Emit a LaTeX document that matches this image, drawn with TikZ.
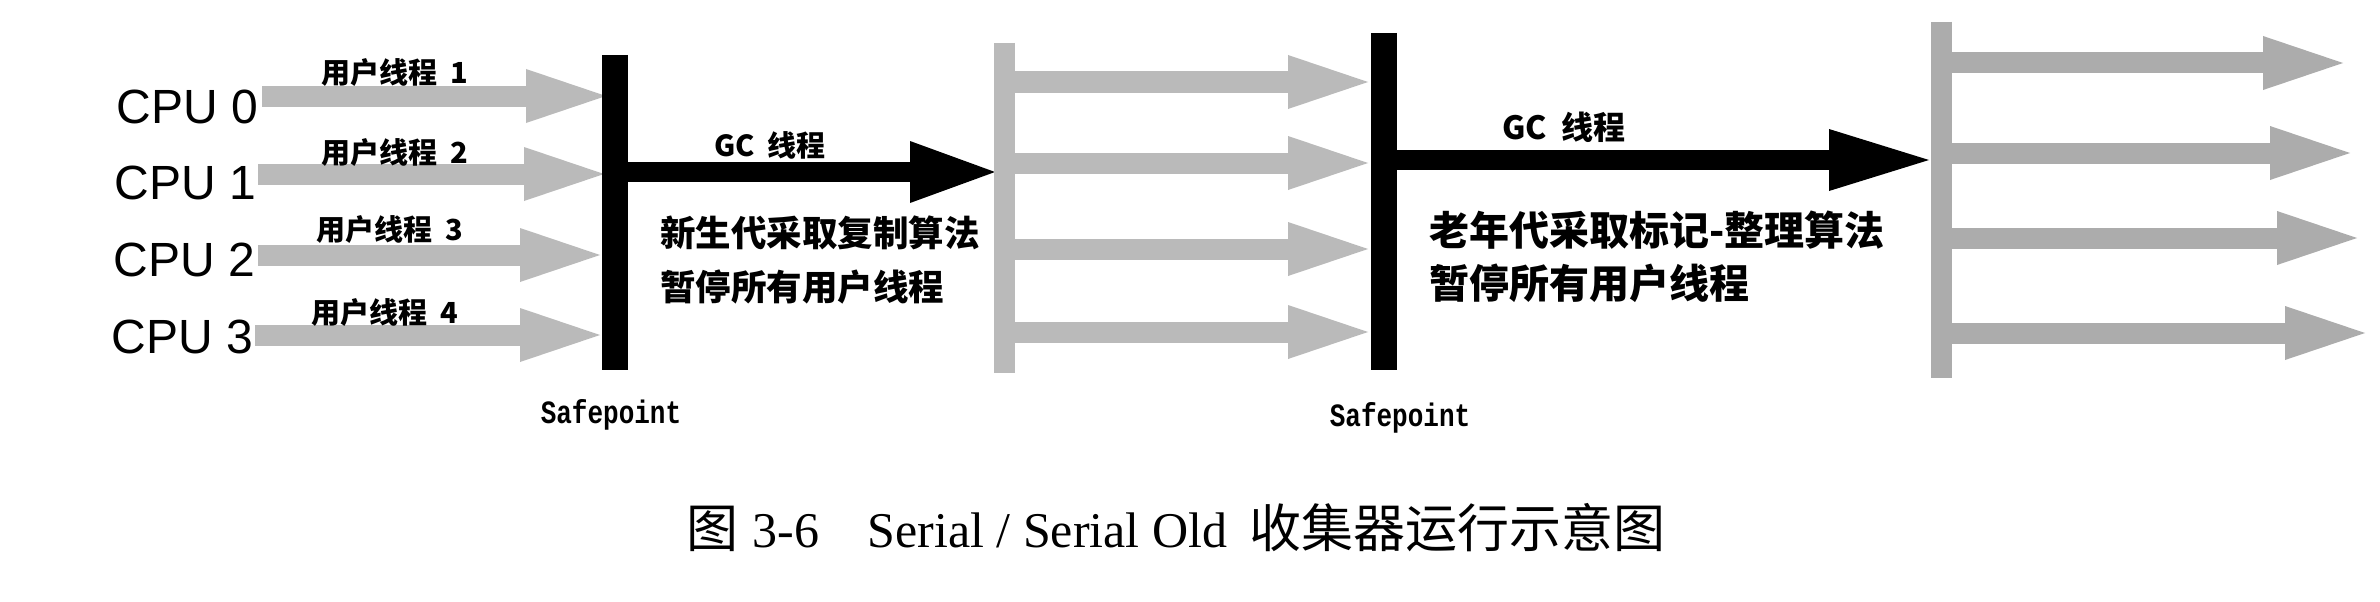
\documentclass[tikz,border=0pt]{standalone}
\usepackage{fontspec}
\setmainfont{Liberation Serif}
\newfontfamily\cjk{Noto Sans CJK SC}
\newfontfamily\arialf{Liberation Sans}
\newfontfamily\monof{Liberation Mono}
\usetikzlibrary{arrows.meta}
\definecolor{garrow}{RGB}{186,186,186}
\definecolor{garrowd}{RGB}{172,172,172}
\tikzset{
  cpulabel/.style={anchor=east,inner sep=0pt,font=\arialf\fontsize{48}{52}\selectfont},
  thlabel/.style={inner sep=0pt,font=\cjk\bfseries\fontsize{29}{32}\selectfont},
  gclabel/.style={inner sep=0pt,font=\cjk\bfseries\fontsize{#1}{#1}\selectfont},
  desc/.style={anchor=west,inner sep=0pt,font=\cjk\bfseries\fontsize{#1}{#1}\selectfont},
  sflabel/.style={inner sep=0pt,font=\monof\bfseries\fontsize{26}{28}\selectfont},
  userarrow/.style={draw=#1,line width=21pt,-{Triangle[length=80pt,width=54pt,line width=0pt]}},
  gcarrow/.style={draw=black,line width=20pt,-{Triangle[length=#1,width=62pt,line width=0pt]}},
  grayline/.style={draw=#1,line width=21pt},
  blackline/.style={draw=black,line width=26pt},
}
\begin{document}
\begin{tikzpicture}[x=1pt,y=-1pt]
\fill[white] (0,0) rectangle (2380,602);
\useasboundingbox (0,0) rectangle (2380,602);

% CPU labels
\node[cpulabel] (cpu0) at (258,107) {CPU 0};
\node[cpulabel] (cpu1) at (256,183) {CPU 1};
\node[cpulabel] (cpu2) at (255,260) {CPU 2};
\node[cpulabel] (cpu3) at (253,337) {CPU 3};

% group 1 coordinates
\coordinate (a0s) at (262,96);  \coordinate (a0e) at (606,96);
\coordinate (a1s) at (258,174); \coordinate (a1e) at (604,174);
\coordinate (a2s) at (258,255); \coordinate (a2e) at (600,255);
\coordinate (a3s) at (255,335); \coordinate (a3e) at (600,335);
\draw[userarrow=garrow] (a0s) -- (a0e);
\draw[userarrow=garrow] (a1s) -- (a1e);
\draw[userarrow=garrow] (a2s) -- (a2e);
\draw[userarrow=garrow] (a3s) -- (a3e);

\node[thlabel] (t1) at (395,73) {用户线程\ \ 1};
\node[thlabel] (t2) at (395,153) {用户线程\ \ 2};
\node[thlabel] (t3) at (390,230) {用户线程\ \ 3};
\node[thlabel] (t4) at (385,313) {用户线程\ \ 4};

% safepoint 1
\coordinate (sp1t) at (615,55); \coordinate (sp1b) at (615,370);
\draw[blackline] (sp1t) -- (sp1b);
\node[sflabel] (sf1) at (611,415) {\scalebox{1}[1.25]{Safepoint}};

% GC arrow 1
\coordinate (gc1s) at (615,172); \coordinate (gc1e) at (995,172);
\draw[gcarrow=85pt] (gc1s) -- (gc1e);
\node[gclabel=29] (gct1) at (770,145) {GC\ \ 线程};
\node[desc=35.5] (d1a) at (660,233) {新生代采取复制算法};
\node[desc=35.5] (d1b) at (660,287) {暂停所有用户线程};

% group 2
\coordinate (g2t) at (1004,43); \coordinate (g2b) at (1004,373);
\draw[grayline=garrow] (g2t) -- (g2b);
\coordinate (b0s) at (1004,82);  \coordinate (b0e) at (1368,82);
\coordinate (b1s) at (1004,163); \coordinate (b1e) at (1368,163);
\coordinate (b2s) at (1004,249); \coordinate (b2e) at (1368,249);
\coordinate (b3s) at (1004,332); \coordinate (b3e) at (1368,332);
\draw[userarrow=garrow] (b0s) -- (b0e);
\draw[userarrow=garrow] (b1s) -- (b1e);
\draw[userarrow=garrow] (b2s) -- (b2e);
\draw[userarrow=garrow] (b3s) -- (b3e);

% safepoint 2
\coordinate (sp2t) at (1384,33); \coordinate (sp2b) at (1384,370);
\draw[blackline] (sp2t) -- (sp2b);
\node[sflabel] (sf2) at (1400,418) {\scalebox{1}[1.25]{Safepoint}};

% GC arrow 2
\coordinate (gc2s) at (1384,160); \coordinate (gc2e) at (1929,160);
\draw[gcarrow=100pt] (gc2s) -- (gc2e);
\node[gclabel=32] (gct2) at (1564,127) {GC\ \ 线程};
\node[desc=40] (d2a) at (1429,230) {老年代采取标记-整理算法};
\node[desc=40] (d2b) at (1429,283) {暂停所有用户线程};

% group 3
\coordinate (g3t) at (1941,22); \coordinate (g3b) at (1941,378);
\draw[grayline=garrowd] (g3t) -- (g3b);
\coordinate (c0s) at (1941,63);  \coordinate (c0e) at (2343,63);
\coordinate (c1s) at (1941,153); \coordinate (c1e) at (2350,153);
\coordinate (c2s) at (1941,238); \coordinate (c2e) at (2357,238);
\coordinate (c3s) at (1941,333); \coordinate (c3e) at (2365,333);
\draw[userarrow=garrowd] (c0s) -- (c0e);
\draw[userarrow=garrowd] (c1s) -- (c1e);
\draw[userarrow=garrowd] (c2s) -- (c2e);
\draw[userarrow=garrowd] (c3s) -- (c3e);

% caption
\node[inner sep=0pt,font=\fontsize{50}{54}\selectfont] (cap) at (1176,528)
  {{\cjk\fontsize{52}{54}\selectfont 图}\hspace{14pt}3-6\hspace{48pt}Serial / Serial Old\hspace{22pt}{\cjk\fontsize{52}{54}\selectfont 收集器运行示意图}};
\end{tikzpicture}
\end{document}
